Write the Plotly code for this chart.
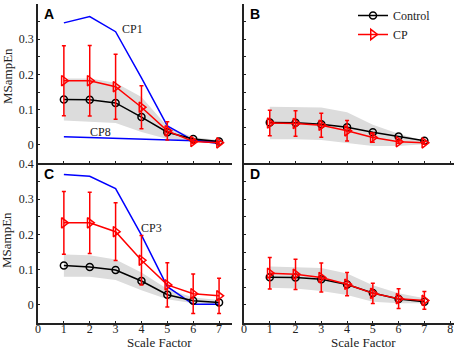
import plotly.graph_objects as go

scale = [1, 2, 3, 4, 5, 6, 7]

# Panel A
a_ctrl = [0.129, 0.128, 0.119, 0.079, 0.036, 0.017, 0.010]
a_cp = [0.182, 0.182, 0.165, 0.107, 0.040, 0.010, 0.006]
a_cp_err = [0.099, 0.100, 0.092, 0.061, 0.026, 0.005, 0.004]
a_band_hi = [0.188, 0.188, 0.176, 0.136, 0.052, 0.022, 0.014]
a_band_lo = [0.069, 0.066, 0.062, 0.037, 0.017, 0.010, 0.005]
a_cp1 = [0.346, 0.364, 0.321, 0.190, 0.054, 0.013, 0.004]
a_cp8 = [0.023, 0.021, 0.018, 0.015, 0.013, 0.011, 0.010]

# Panel B
b_ctrl = [0.0636, 0.063, 0.059, 0.050, 0.036, 0.024, 0.012]
b_cp = [0.062, 0.061, 0.056, 0.040, 0.021, 0.009, 0.006]
b_cp_err = [0.036, 0.036, 0.034, 0.029, 0.013, 0.004, 0.004]
b_band_hi = [0.108, 0.107, 0.106, 0.093, 0.057, 0.032, 0.012]
b_band_lo = [0.016, 0.016, 0.014, 0.005, -0.003, -0.003, 0.002]

# Panel C
c_ctrl = [0.112, 0.108, 0.099, 0.068, 0.029, 0.012, 0.007]
c_cp = [0.233, 0.233, 0.208, 0.127, 0.057, 0.032, 0.026]
c_cp_err = [0.089, 0.087, 0.082, 0.070, 0.063, 0.056, 0.050]
c_band_hi = [0.143, 0.141, 0.129, 0.092, 0.045, 0.021, 0.014]
c_band_lo = [0.080, 0.080, 0.071, 0.042, 0.016, 0.005, 0.002]
c_cp3 = [0.370, 0.365, 0.330, 0.198, 0.052, 0.002, 0.002]

# Panel D
d_ctrl = [0.0785, 0.078, 0.073, 0.058, 0.034, 0.017, 0.009]
d_cp = [0.090, 0.087, 0.078, 0.059, 0.033, 0.018, 0.013]
d_cp_err = [0.045, 0.043, 0.041, 0.033, 0.029, 0.028, 0.025]
d_band_hi = [0.109, 0.108, 0.105, 0.089, 0.056, 0.033, 0.019]
d_band_lo = [0.049, 0.047, 0.040, 0.028, 0.009, 0.005, 0.005]

W, H = 454, 349
SERIF = "Liberation Serif, Times New Roman, serif"
SANS = "Liberation Sans, Arial, sans-serif"
TXT = "#222222"

fig = go.Figure()

panels = [
    ("x", "y", a_ctrl, a_cp, a_cp_err, a_band_hi, a_band_lo),
    ("x2", "y2", b_ctrl, b_cp, b_cp_err, b_band_hi, b_band_lo),
    ("x3", "y3", c_ctrl, c_cp, c_cp_err, c_band_hi, c_band_lo),
    ("x4", "y4", d_ctrl, d_cp, d_cp_err, d_band_hi, d_band_lo),
]

for i, (xa, ya, ctrl, cp, err, hi, lo) in enumerate(panels):
    fig.add_trace(go.Scatter(
        x=scale + scale[::-1], y=hi + lo[::-1], xaxis=xa, yaxis=ya,
        fill="toself", fillcolor="#dcdcdc", line=dict(width=0),
        mode="lines", showlegend=False, hoverinfo="skip"))
    if i == 0:
        fig.add_trace(go.Scatter(x=scale, y=a_cp1, xaxis=xa, yaxis=ya, mode="lines",
                                 line=dict(color="#0000ff", width=1.5), showlegend=False))
        fig.add_trace(go.Scatter(x=scale, y=a_cp8, xaxis=xa, yaxis=ya, mode="lines",
                                 line=dict(color="#0000ff", width=1.5), showlegend=False))
    if i == 2:
        fig.add_trace(go.Scatter(x=scale, y=c_cp3, xaxis=xa, yaxis=ya, mode="lines",
                                 line=dict(color="#0000ff", width=1.5), showlegend=False))
    fig.add_trace(go.Scatter(
        x=scale, y=ctrl, xaxis=xa, yaxis=ya, mode="lines+markers", name="Control",
        line=dict(color="black", width=1.5),
        marker=dict(symbol="circle-open", size=7, color="black", line=dict(width=1.5)),
        showlegend=(i == 1)))
    fig.add_trace(go.Scatter(
        x=scale, y=cp, xaxis=xa, yaxis=ya, mode="lines+markers", name="CP",
        line=dict(color="#ff0000", width=1.5),
        marker=dict(symbol="triangle-right-open", size=9, color="#ff0000", line=dict(width=1.5)),
        error_y=dict(type="data", array=err, color="#ff0000", thickness=1.5, width=2),
        showlegend=(i == 1)))

xdomL = [38 / W, 232 / W]
xdomR = [244 / W, 1.0]
ydomT = [1 - 162.6 / H, 1 - 3.8 / H]
ydomB = [1 - 322.6 / H, 1 - 164 / H]

axcommon = dict(showline=True, linecolor=TXT, linewidth=1.8, ticks="inside",
                ticklen=2, tickwidth=1.2, tickcolor=TXT, showgrid=False,
                zeroline=False, mirror=False, automargin=False,
                tickfont=dict(family=SERIF, size=12, color=TXT))

xticks = [0, 1, 2, 3, 4, 5, 6, 7, 8]
yticks_lab = [0, 0.1, 0.2, 0.3, 0.4]
yticks_txt = ["0", "0.1", "0.2", "0.3", "0.4"]
yticks_all = [0, 0.05, 0.1, 0.15, 0.2, 0.25, 0.3, 0.35, 0.4]
minor_y = dict(ticks="inside", ticklen=2, tickvals=[0.05, 0.15, 0.25, 0.35], tickcolor=TXT)

fig.update_layout(
    width=W, height=H, margin=dict(l=0, r=0, t=0, b=0),
    plot_bgcolor="white", paper_bgcolor="white",
    xaxis=dict(**axcommon, domain=xdomL, range=[0, 7.5], anchor="y", tickvals=xticks,
               showticklabels=False),
    yaxis=dict(**axcommon, domain=ydomT, range=[-0.05, 0.4], anchor="x",
               tickvals=yticks_lab, ticktext=yticks_txt, minor=minor_y),
    xaxis2=dict(**axcommon, domain=xdomR, range=[0, 8.15], anchor="y2", tickvals=xticks,
                showticklabels=False),
    yaxis2=dict(**axcommon, domain=ydomT, range=[-0.05, 0.4], anchor="x2",
                tickvals=yticks_all, showticklabels=False),
    xaxis3=dict(**axcommon, domain=xdomL, range=[0, 7.5], anchor="y3", tickvals=xticks,
                ticklabelstandoff=-6),
    yaxis3=dict(**axcommon, domain=ydomB, range=[-0.05, 0.4], anchor="x3",
                tickvals=yticks_lab, ticktext=yticks_txt, minor=minor_y),
    xaxis4=dict(**axcommon, domain=xdomR, range=[0, 8.15], anchor="y4", tickvals=xticks,
                ticklabelstandoff=-6),
    yaxis4=dict(**axcommon, domain=ydomB, range=[-0.05, 0.4], anchor="x4",
                tickvals=yticks_all, showticklabels=False),
    legend=dict(x=353 / W, y=1 - 1 / H, xanchor="left", yanchor="top",
                bgcolor="rgba(0,0,0,0)", font=dict(family=SERIF, size=12, color=TXT),
                tracegroupgap=0, itemwidth=30),
    showlegend=True,
)

# Axis titles as paper annotations
for cx in [159, 363]:
    fig.add_annotation(x=cx / W, y=1 - 342 / H, xref="paper", yref="paper", text="Scale Factor",
                       showarrow=False, xanchor="center", yanchor="middle",
                       font=dict(family=SERIF, size=13, color=TXT))
for cy in [76, 240]:
    fig.add_annotation(x=7 / W, y=1 - cy / H, xref="paper", yref="paper", text="MSampEn",
                       showarrow=False, xanchor="center", yanchor="middle", textangle=-90,
                       font=dict(family=SERIF, size=13, color=TXT))

# Panel letters
for xa, ya, letter in [("x", "y", "A"), ("x2", "y2", "B"), ("x3", "y3", "C"), ("x4", "y4", "D")]:
    fig.add_annotation(x=0.15, y=0.4, xref=xa, yref=ya, text="<b>%s</b>" % letter,
                       showarrow=False, xanchor="left", yanchor="top",
                       font=dict(family=SANS, size=14, color="black"))

# Curve labels
fig.add_annotation(x=3.65, y=0.33, xref="x", yref="y", text="CP1", showarrow=False,
                   font=dict(family=SERIF, size=12, color=TXT))
fig.add_annotation(x=2.4, y=0.037, xref="x", yref="y", text="CP8", showarrow=False,
                   font=dict(family=SERIF, size=12, color=TXT))
fig.add_annotation(x=4.4, y=0.217, xref="x3", yref="y3", text="CP3", showarrow=False,
                   font=dict(family=SERIF, size=12, color=TXT))

fig.write_html("out.html", config={"displayModeBar": False},
               post_script="document.body.style.margin='0';")
